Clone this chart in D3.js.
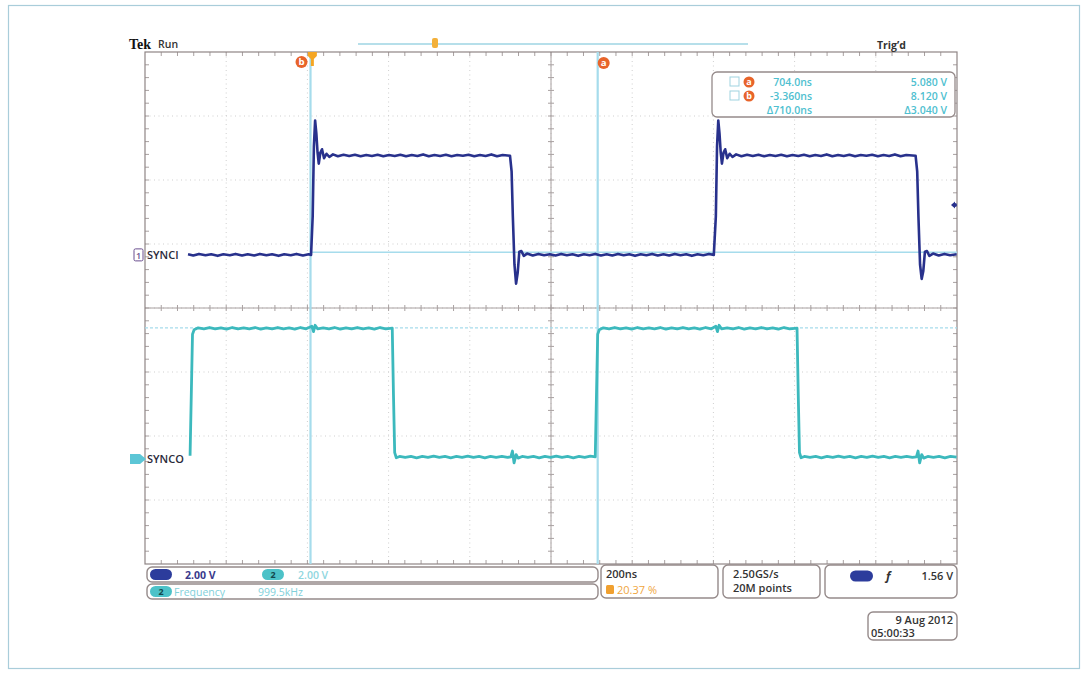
<!DOCTYPE html>
<html>
<head>
<meta charset="utf-8">
<script src="https://cdn.jsdelivr.net/npm/d3@7"></script>
<style>
  html, body { margin: 0; padding: 0; background: #fff; }
  svg { display: block; font-family: "Open Sans", "Liberation Sans", sans-serif; }
</style>
</head>
<body>
<svg id="scope" width="1084" height="675"></svg>
<script>
// ---- Acquisition settings ----
const timePerDiv = 200;          // ns / div
const voltsPerDiv = [2.00, 2.00];
const triggerLevel = 1.56;       // V on channel 1
const divisionsX = 10, divisionsY = 8;
const screenStart = -411;        // ns at left edge of graticule

// ---- Channel 1 (SYNCI) samples: [time ns, volts] ----
const ch1Samples = [
  [-305, 0.02], [-292, -0.02], [-278, 0.03], [-262, -0.01], [-248, 0.02], [-232, -0.03],
  [-218, 0.02], [-202, -0.01], [-188, 0.03], [-172, -0.02], [-158, 0.02], [-142, -0.02],
  [-128, 0.03], [-112, -0.01], [-98, 0.02], [-82, -0.03], [-68, 0.02], [-52, -0.01],
  [-38, 0.03], [-22, -0.02], [-8, 0.02], [-2, 0.0],
  [2, 1.2], [5, 3.4], [8, 4.2], [11, 3.8], [14, 3.2], [17, 2.85], [21, 3.2], [25, 3.3],
  [30, 3.02], [36, 3.16], [43, 3.06], [52, 3.14], [64, 3.08], [78, 3.13], [92, 3.09],
  [106, 3.13], [120, 3.08], [134, 3.12], [148, 3.09], [162, 3.13], [176, 3.08], [190, 3.12],
  [204, 3.09], [218, 3.13], [232, 3.08], [246, 3.12], [260, 3.09], [274, 3.14], [288, 3.08],
  [302, 3.12], [316, 3.09], [330, 3.13], [344, 3.08], [358, 3.12], [372, 3.1], [386, 3.13],
  [400, 3.08], [414, 3.12], [428, 3.09], [442, 3.14], [456, 3.08], [470, 3.12], [488, 3.1],
  [492, 2.6], [495, 1.2], [499, -0.3], [503, -0.9], [507, -0.55], [511, 0.1], [516, 0.12],
  [522, -0.03], [530, 0.04], [544, -0.02], [558, 0.03], [572, -0.01], [586, 0.02],
  [600, -0.02], [614, 0.03], [628, -0.01], [642, 0.02], [656, -0.03], [670, 0.02],
  [684, -0.01], [698, 0.03], [712, -0.02], [726, 0.02], [740, -0.02], [754, 0.03],
  [768, -0.01], [782, 0.02], [796, -0.03], [810, 0.02], [824, -0.01], [838, 0.03],
  [852, -0.02], [866, 0.02], [880, -0.02], [894, 0.03], [908, -0.01], [922, 0.02],
  [936, -0.03], [950, 0.02], [964, -0.01], [978, 0.03], [990, 0.0],
  [995, 1.2], [998, 3.4], [1001, 4.2], [1004, 3.8], [1007, 3.2], [1010, 2.85], [1014, 3.2],
  [1018, 3.3], [1023, 3.02], [1029, 3.16], [1036, 3.06], [1045, 3.14], [1058, 3.08],
  [1072, 3.13], [1086, 3.09], [1100, 3.13], [1114, 3.08], [1128, 3.12], [1142, 3.09],
  [1156, 3.13], [1170, 3.08], [1184, 3.12], [1198, 3.09], [1212, 3.13], [1226, 3.08],
  [1240, 3.12], [1254, 3.09], [1268, 3.14], [1282, 3.08], [1296, 3.12], [1310, 3.09],
  [1324, 3.13], [1338, 3.08], [1352, 3.12], [1366, 3.1], [1380, 3.13], [1394, 3.08],
  [1408, 3.12], [1422, 3.09], [1436, 3.14], [1450, 3.08], [1464, 3.12], [1487, 3.1],
  [1491, 2.6], [1494, 1.2], [1498, -0.3], [1502, -0.75], [1506, -0.5], [1510, 0.1],
  [1515, 0.12], [1521, -0.03], [1530, 0.04], [1544, -0.02], [1558, 0.03], [1572, -0.01],
  [1588, 0.02]
];

// ---- Channel 2 (SYNCO) samples: [time ns, volts] ----
const ch2Samples = [
  [-300, 0.1], [-297, 2.0], [-294, 3.9], [-290, 4.04], [-280, 4.1], [-266, 4.07],
  [-252, 4.11], [-238, 4.07], [-224, 4.1], [-210, 4.06], [-196, 4.11], [-182, 4.07],
  [-168, 4.1], [-154, 4.07], [-140, 4.11], [-126, 4.06], [-112, 4.1], [-98, 4.07],
  [-84, 4.11], [-70, 4.07], [-56, 4.1], [-42, 4.06], [-28, 4.11], [-14, 4.07],
  [0, 4.15], [4, 3.98], [8, 4.18], [14, 4.07], [28, 4.1], [42, 4.07], [56, 4.11],
  [70, 4.06], [84, 4.1], [98, 4.07], [112, 4.11], [126, 4.07], [140, 4.1], [154, 4.06],
  [168, 4.11], [182, 4.07], [198, 4.09],
  [201, 2.0], [204, 0.2], [208, 0.04], [216, 0.08], [230, 0.05], [244, 0.08], [258, 0.04],
  [272, 0.08], [286, 0.05], [300, 0.09], [314, 0.05], [328, 0.08], [342, 0.04], [356, 0.08],
  [370, 0.05], [384, 0.09], [398, 0.05], [412, 0.08], [426, 0.04], [440, 0.08], [454, 0.05],
  [468, 0.08], [482, 0.05], [490, 0.07], [494, 0.25], [498, -0.12], [503, 0.14], [508, 0.03],
  [518, 0.08], [532, 0.05], [546, 0.08], [560, 0.04], [574, 0.08], [588, 0.05], [602, 0.09],
  [616, 0.05], [630, 0.08], [644, 0.04], [658, 0.08], [672, 0.05], [686, 0.09], [698, 0.07],
  [701, 2.0], [704, 3.9], [708, 4.04], [718, 4.1], [732, 4.07], [746, 4.11], [760, 4.07],
  [774, 4.1], [788, 4.06], [802, 4.11], [816, 4.07], [830, 4.1], [844, 4.07], [858, 4.11],
  [872, 4.06], [886, 4.1], [900, 4.07], [914, 4.11], [928, 4.07], [942, 4.1], [956, 4.06],
  [970, 4.11], [984, 4.07], [995, 4.15], [999, 3.98], [1003, 4.18], [1009, 4.07],
  [1023, 4.1], [1037, 4.07], [1051, 4.11], [1065, 4.06], [1079, 4.1], [1093, 4.07],
  [1107, 4.11], [1121, 4.07], [1135, 4.1], [1149, 4.06], [1163, 4.11], [1177, 4.07],
  [1195, 4.09], [1198, 2.0], [1201, 0.2], [1205, 0.04], [1213, 0.08], [1227, 0.05],
  [1241, 0.08], [1255, 0.04], [1269, 0.08], [1283, 0.05], [1297, 0.09], [1311, 0.05],
  [1325, 0.08], [1339, 0.04], [1353, 0.08], [1367, 0.05], [1381, 0.09], [1395, 0.05],
  [1409, 0.08], [1423, 0.04], [1437, 0.08], [1451, 0.05], [1465, 0.08], [1479, 0.05],
  [1489, 0.07], [1493, 0.25], [1497, -0.12], [1502, 0.14], [1507, 0.03], [1517, 0.08],
  [1531, 0.05], [1545, 0.08], [1559, 0.04], [1573, 0.08], [1588, 0.06]
];

// ---- Channel vertical offsets (divisions) ----
const channelOffsets = [0.83, -2.36];

// ---- Cursor readouts ----
const cursorTimes = [-3.36, 704.0];   // b, a
const cursorA = ["704.0ns", "5.080 V"];
const cursorB = ["-3.360ns", "8.120 V"];
const cursorDelta = ["\u0394710.0ns", "\u03943.040 V"];

// ---- Status texts ----
const channelLabels = ["SYNCI", "SYNCO"];
const scaleLabels = ["2.00 V", "2.00 V"];
const measurement = ["Frequency", "999.5kHz"];
const horizontalLabels = ["200ns", "20.37 %"];
const acquisitionLabels = ["2.50GS/s", "20M points"];
const triggerLabel = "1.56 V";
const dateLabels = ["9 Aug 2012", "05:00:33"];

// ---- Layout ----
const G = { left: 145, top: 52, right: 957, bottom: 564 };
const divW = (G.right - G.left) / divisionsX;
const divH = (G.bottom - G.top) / divisionsY;
const C1 = "#28318c", C2 = "#3cb9bd", CURSOR = "#a6dcec", ORANGE = "#e8642a";

const svg = d3.select("#scope");

// Outer frame
svg.append("rect").attr("x", 8.5).attr("y", 5.5).attr("width", 1071).attr("height", 663)
  .attr("fill", "none").attr("stroke", "#a9cdda").attr("stroke-width", 1.2);

// Scales
const x = d3.scaleLinear()
  .domain([screenStart, screenStart + timePerDiv * divisionsX])
  .range([G.left, G.right]);
const yCh = [0, 1].map(i => {
  const half = voltsPerDiv[i] * divisionsY / 2;
  const off = channelOffsets[i] * voltsPerDiv[i];
  return d3.scaleLinear().domain([-half - off, half - off]).range([G.bottom, G.top]);
});
const yDiv = d3.scaleLinear().domain([-divisionsY / 2, divisionsY / 2]).range([G.bottom, G.top]);

// Graticule: dotted division lines
const grid = svg.append("g");
grid.selectAll("line.vx").data(d3.range(1, divisionsX)).join("line")
  .attr("x1", i => G.left + i * divW).attr("x2", i => G.left + i * divW)
  .attr("y1", G.top).attr("y2", G.bottom)
  .attr("stroke", "#cfcfcf").attr("stroke-width", 1).attr("stroke-dasharray", "1,3.5");
grid.selectAll("line.hy").data(d3.range(1, divisionsY)).join("line")
  .attr("y1", i => G.top + i * divH).attr("y2", i => G.top + i * divH)
  .attr("x1", G.left).attr("x2", G.right)
  .attr("stroke", "#cfcfcf").attr("stroke-width", 1).attr("stroke-dasharray", "1,3.5");

// Center cross with minor ticks
const cx = G.left + divW * divisionsX / 2, cy = yDiv(0);
grid.append("line").attr("x1", G.left).attr("x2", G.right).attr("y1", cy).attr("y2", cy)
  .attr("stroke", "#a8a0a0").attr("stroke-width", 1);
grid.append("line").attr("x1", cx).attr("x2", cx).attr("y1", G.top).attr("y2", G.bottom)
  .attr("stroke", "#a8a0a0").attr("stroke-width", 1);
const minorX = d3.range(1, divisionsX * 5).map(i => G.left + i * divW / 5);
const minorY = d3.range(1, divisionsY * 5).map(i => G.top + i * divH / 5);
grid.selectAll("line.tcx").data(minorX).join("line")
  .attr("x1", d => d).attr("x2", d => d).attr("y1", cy - 3).attr("y2", cy + 3)
  .attr("stroke", "#a8a0a0");
grid.selectAll("line.tcy").data(minorY).join("line")
  .attr("y1", d => d).attr("y2", d => d).attr("x1", cx - 3).attr("x2", cx + 3)
  .attr("stroke", "#a8a0a0");
// Edge ticks
grid.selectAll("line.tt").data(minorX).join("line")
  .attr("x1", d => d).attr("x2", d => d).attr("y1", G.top).attr("y2", G.top + 4).attr("stroke", "#a8a0a0");
grid.selectAll("line.tb").data(minorX).join("line")
  .attr("x1", d => d).attr("x2", d => d).attr("y1", G.bottom - 4).attr("y2", G.bottom).attr("stroke", "#a8a0a0");
grid.selectAll("line.tl").data(minorY).join("line")
  .attr("y1", d => d).attr("y2", d => d).attr("x1", G.left).attr("x2", G.left + 4).attr("stroke", "#a8a0a0");
grid.selectAll("line.tr").data(minorY).join("line")
  .attr("y1", d => d).attr("y2", d => d).attr("x1", G.right - 4).attr("x2", G.right).attr("stroke", "#a8a0a0");
grid.append("rect").attr("x", G.left).attr("y", G.top)
  .attr("width", G.right - G.left).attr("height", G.bottom - G.top)
  .attr("fill", "none").attr("stroke", "#8f8585").attr("stroke-width", 1.2);

// Cursor horizontal levels
svg.append("line").attr("x1", G.left).attr("x2", G.right)
  .attr("y1", yCh[1](4.1)).attr("y2", yCh[1](4.1))
  .attr("stroke", CURSOR).attr("stroke-width", 1.2).attr("stroke-dasharray", "3,2");
svg.append("line").attr("x1", x(cursorTimes[0])).attr("x2", G.right)
  .attr("y1", yCh[0](0.08)).attr("y2", yCh[0](0.08))
  .attr("stroke", CURSOR).attr("stroke-width", 1.5);

// Cursor vertical bars
svg.selectAll("line.cur").data(cursorTimes).join("line")
  .attr("x1", d => x(d)).attr("x2", d => x(d)).attr("y1", G.top).attr("y2", G.bottom)
  .attr("stroke", CURSOR).attr("stroke-width", 2.2);

// Waveforms
const line = i => d3.line().x(d => x(d[0])).y(d => yCh[i](d[1]));
svg.append("path").datum(ch2Samples).attr("d", line(1))
  .attr("fill", "none").attr("stroke", C2).attr("stroke-width", 2.8).attr("stroke-linejoin", "round");
svg.append("path").datum(ch1Samples).attr("d", line(0))
  .attr("fill", "none").attr("stroke", C1).attr("stroke-width", 2.6).attr("stroke-linejoin", "round");

// Channel ground labels
const lab = svg.append("g").attr("font-size", 11).attr("font-weight", 600);
lab.append("rect").attr("x", 134).attr("y", yCh[0](0) - 6).attr("width", 9).attr("height", 12)
  .attr("fill", "#fff").attr("stroke", "#6a4f8f").attr("stroke-width", 1).attr("rx", 1.5);
lab.append("text").attr("x", 138.5).attr("y", yCh[0](0) + 4).attr("text-anchor", "middle")
  .attr("font-size", 9).attr("fill", "#6a4f8f").text("1");
lab.append("text").attr("x", 147).attr("y", yCh[0](0) + 4).attr("fill", "#2a2a3a").text(channelLabels[0]);
lab.append("path")
  .attr("d", `M130,${yCh[1](0) - 5} L140,${yCh[1](0) - 5} L146,${yCh[1](0)} L140,${yCh[1](0) + 5} L130,${yCh[1](0) + 5} Z`)
  .attr("fill", "#5cc6d6");
lab.append("text").attr("x", 147).attr("y", yCh[1](0) + 4).attr("fill", "#2a2a3a").text(channelLabels[1]);

// Trigger level marker on right edge
svg.append("path")
  .attr("d", `M${G.right - 6},${yCh[0](triggerLevel)} l4,-3.5 l0,7 Z`).attr("fill", C1);
svg.append("circle").attr("cx", G.right - 2).attr("cy", yCh[0](triggerLevel)).attr("r", 2).attr("fill", C1);

// Top status line
svg.append("text").attr("x", 129).attr("y", 49).attr("font-family", "Liberation Serif, serif")
  .attr("font-weight", 700).attr("font-size", 14).attr("fill", "#111").text("Tek");
svg.append("text").attr("x", 158).attr("y", 48).attr("font-size", 10.5).attr("font-weight", 600)
  .attr("fill", "#333").text("Run");
svg.append("text").attr("x", 877).attr("y", 49).attr("font-size", 10.5).attr("font-weight", 700)
  .attr("fill", "#333").text("Trig\u2019d");
svg.append("line").attr("x1", 358).attr("x2", 748).attr("y1", 44).attr("y2", 44)
  .attr("stroke", "#b6dfea").attr("stroke-width", 2);
svg.append("rect").attr("x", 432).attr("y", 38).attr("width", 6).attr("height", 10).attr("rx", 2)
  .attr("fill", "#f3b03a");

// Cursor badges and trigger position marker
function badge(cxp, cyp, letter, r) {
  svg.append("circle").attr("cx", cxp).attr("cy", cyp).attr("r", r).attr("fill", ORANGE);
  svg.append("text").attr("x", cxp).attr("y", cyp + r * 0.55).attr("text-anchor", "middle")
    .attr("font-size", r * 1.6).attr("font-weight", 700).attr("fill", "#fff").text(letter);
}
badge(x(cursorTimes[0]) - 9, 62, "b", 6);
svg.append("path").attr("d", `M${x(0) - 4},52 h9 v4 l-3,3 v7 h-3 v-7 l-3,-3 Z`).attr("fill", "#f5a623");
badge(x(cursorTimes[1]) + 6, 63, "a", 6);

// Cursor readout box
const rb = svg.append("g");
rb.append("rect").attr("x", 712).attr("y", 72).attr("width", 243).attr("height", 45).attr("rx", 5)
  .attr("fill", "#fff").attr("stroke", "#958a8a").attr("stroke-width", 1.3);
[[cursorA, "a", 82], [cursorB, "b", 96]].forEach(([vals, letter, yy]) => {
  rb.append("rect").attr("x", 730).attr("y", yy - 5).attr("width", 9).attr("height", 9)
    .attr("fill", "none").attr("stroke", "#9fd3e0");
  rb.append("circle").attr("cx", 749).attr("cy", yy).attr("r", 5.5).attr("fill", ORANGE);
  rb.append("text").attr("x", 749).attr("y", yy + 3.3).attr("text-anchor", "middle")
    .attr("font-size", 9).attr("font-weight", 700).attr("fill", "#fff").text(letter);
  rb.append("text").attr("x", 812).attr("y", yy + 4).attr("text-anchor", "end")
    .attr("font-size", 10.5).attr("font-weight", 600).attr("fill", "#4fbfd0").text(vals[0]);
  rb.append("text").attr("x", 947).attr("y", yy + 4).attr("text-anchor", "end")
    .attr("font-size", 10.5).attr("font-weight", 600).attr("fill", "#4fbfd0").text(vals[1]);
});
rb.append("text").attr("x", 812).attr("y", 114).attr("text-anchor", "end")
  .attr("font-size", 10.5).attr("font-weight", 600).attr("fill", "#4fbfd0").text(cursorDelta[0]);
rb.append("text").attr("x", 947).attr("y", 114).attr("text-anchor", "end")
  .attr("font-size", 10.5).attr("font-weight", 600).attr("fill", "#4fbfd0").text(cursorDelta[1]);

// Bottom readout panels
function panel(x0, y0, w, h) {
  return svg.append("rect").attr("x", x0).attr("y", y0).attr("width", w).attr("height", h)
    .attr("rx", 5).attr("fill", "#fff").attr("stroke", "#958a8a").attr("stroke-width", 1.4);
}
function pill(x0, yy, w, fill, label, labelColor) {
  svg.append("rect").attr("x", x0).attr("y", yy - 5.5).attr("width", w).attr("height", 11)
    .attr("rx", 5.5).attr("fill", fill);
  svg.append("text").attr("x", x0 + w / 2).attr("y", yy + 3.5).attr("text-anchor", "middle")
    .attr("font-size", 9).attr("font-weight", 700).attr("fill", labelColor).text(label);
}
panel(147, 567, 451, 15);
pill(150, 574.5, 22, "#2c3c9c", "1", "#2c3c9c");
svg.append("text").attr("x", 185).attr("y", 578.5).attr("font-size", 10.5).attr("font-weight", 700)
  .attr("fill", "#3a3a8c").text(scaleLabels[0]);
pill(262, 574.5, 22, "#4cc2c8", "2", "#14474c");
svg.append("text").attr("x", 298).attr("y", 578.5).attr("font-size", 10.5).attr("font-weight", 600)
  .attr("fill", "#8fd6de").text(scaleLabels[1]);

panel(147, 584, 451, 15);
pill(150, 591.5, 22, "#4cc2c8", "2", "#14474c");
svg.append("text").attr("x", 174).attr("y", 595.5).attr("font-size", 10.5)
  .attr("fill", "#7fd0da").text(measurement[0]);
svg.append("text").attr("x", 258).attr("y", 595.5).attr("font-size", 10.5)
  .attr("fill", "#7fd0da").text(measurement[1]);

panel(601, 565, 117, 33);
svg.append("text").attr("x", 606).attr("y", 578).attr("font-size", 11).attr("font-weight", 600)
  .attr("fill", "#333").text(horizontalLabels[0]);
svg.append("rect").attr("x", 606).attr("y", 585).attr("width", 8).attr("height", 9).attr("rx", 1.5)
  .attr("fill", "#f0a030");
svg.append("text").attr("x", 617).attr("y", 594).attr("font-size", 11)
  .attr("fill", "#f0a640").text(horizontalLabels[1]);

panel(723, 565, 97, 33);
svg.append("text").attr("x", 733).attr("y", 578).attr("font-size", 11).attr("font-weight", 600)
  .attr("fill", "#333").text(acquisitionLabels[0]);
svg.append("text").attr("x", 733).attr("y", 592).attr("font-size", 11).attr("font-weight", 600)
  .attr("fill", "#333").text(acquisitionLabels[1]);

panel(825, 565, 132, 33);
pill(850, 576, 23, "#2c3c9c", "1", "#2c3c9c");
svg.append("text").attr("x", 885).attr("y", 580).attr("font-size", 12).attr("font-style", "italic")
  .attr("font-weight", 700).attr("fill", "#333").text("\u0192");
svg.append("text").attr("x", 953).attr("y", 580).attr("text-anchor", "end").attr("font-size", 11)
  .attr("font-weight", 600).attr("fill", "#333").text(triggerLabel);

panel(868, 612, 89, 28);
svg.append("text").attr("x", 953).attr("y", 624).attr("text-anchor", "end").attr("font-size", 11)
  .attr("font-weight", 600).attr("fill", "#333").text(dateLabels[0]);
svg.append("text").attr("x", 871).attr("y", 637).attr("font-size", 11)
  .attr("font-weight", 600).attr("fill", "#333").text(dateLabels[1]);
</script>
</body>
</html>
